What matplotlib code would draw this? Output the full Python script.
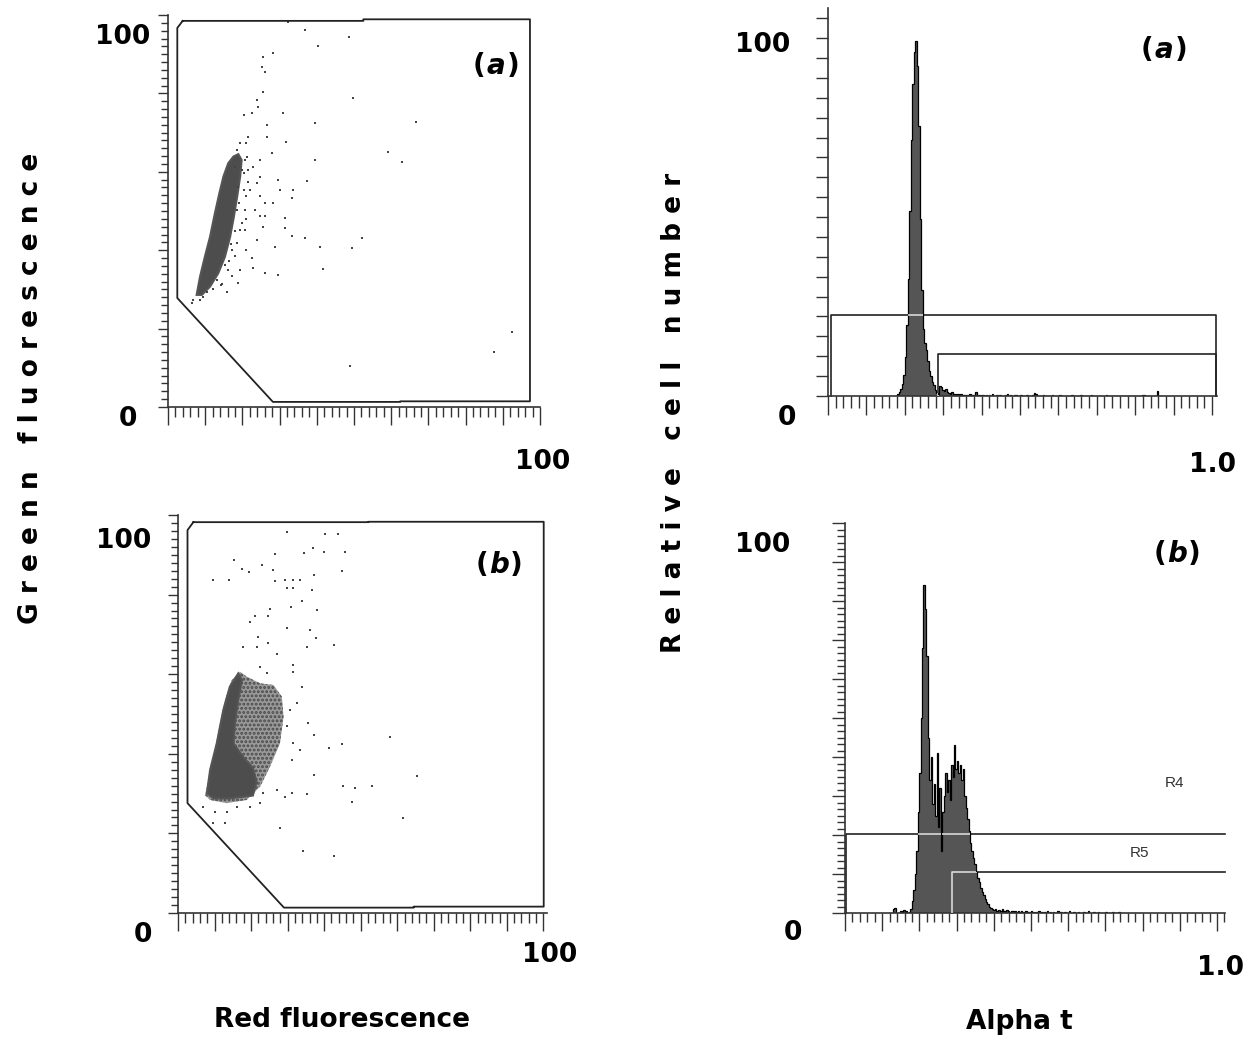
import matplotlib
matplotlib.use('Agg')
import matplotlib.pyplot as plt
from matplotlib.ticker import MultipleLocator
import numpy as np

# ---------------- data ----------------
# Scatter (a): gate polygon, dense cloud outline, sparse events
gate_a_x = [3.95, 2.5, 2.5, 28.2, 62.4, 62.4, 97.3, 97.3, 52.5, 52.5, 3.95]
gate_a_y = [98.5, 96.7, 27.8, 1.3, 1.3, 1.45, 1.45, 98.9, 98.9, 98.5, 98.5]
cloud_a_x = [7.7, 8.6, 9.9, 11.3, 12.6, 13.8, 14.9, 16.2, 17.6, 18.9, 19.8, 19.4,
             18.6, 17.7, 16.7, 15.3, 13.5, 11.3, 9.1]
cloud_a_y = [28.6, 33.2, 38.3, 43.4, 49.4, 54.5, 58.8, 62.2, 63.9, 64.5, 63.0, 58.8,
             53.7, 48.5, 43.4, 38.3, 34.1, 30.7, 28.6]
pts_a_x = [36.8, 40.4, 48.7, 49.6, 25.6, 28.3, 26.1, 25.2, 25.6, 23.8, 24.3, 20.3,
           22.5, 26.5, 31.0, 26.5, 21.6, 21.1, 31.7, 39.5, 59.2, 62.8, 66.7, 39.5,
           37.3, 33.7, 33.2, 29.7, 30.1, 26.1, 28.3, 24.7, 26.1, 25.6, 31.5, 31.5,
           33.2, 36.8, 40.9, 49.4, 52.1, 41.8, 29.7, 26.1, 28.8, 22.5, 22.9, 19.4,
           18.9, 15.8, 6.4, 8.6, 48.9, 87.5, 92.4, 21.1, 22.0, 23.8, 20.7, 23.4,
           19.8, 20.7, 23.8, 18.5, 18.0, 21.1, 24.7, 27.9, 24.7, 22.9, 24.7, 21.6,
           32.3, 16.2, 14.4, 17.1, 20.3, 19.8, 20.7, 18.5, 19.4, 18.0, 21.6, 18.5,
           19.4, 17.1, 15.3, 13.1, 10.4, 6.8, 9.5, 20.4, 19.1, 17.9, 16.4, 14.2,
           12.0, 20.9, 18.8, 21.3, 16.9]
pts_a_y = [96.2, 92.1, 94.3, 78.7, 89.4, 90.2, 85.5, 86.8, 80.4, 78.3, 76.6, 74.5,
           74.9, 72.0, 75.1, 69.0, 69.0, 67.3, 67.7, 72.5, 65.1, 62.6, 72.8, 63.0,
           57.7, 55.4, 53.2, 57.9, 55.4, 52.1, 52.1, 48.6, 48.6, 46.0, 48.1, 45.6,
           43.5, 43.0, 40.9, 40.5, 43.0, 35.1, 33.7, 34.1, 40.9, 37.9, 35.4, 35.0,
           31.6, 29.4, 26.5, 27.3, 10.5, 14.1, 19.2, 53.7, 55.4, 57.1, 50.3, 50.3,
           46.9, 45.2, 42.6, 41.8, 38.4, 40.1, 53.7, 64.7, 63.0, 61.3, 58.8, 60.5,
           98.3, 34.9, 31.5, 33.3, 55.4, 60.5, 63.0, 65.6, 67.3, 61.3, 57.5, 50.3,
           45.2, 40.1, 36.2, 32.4, 29.4, 27.3, 28.1, 59.6, 52.0, 44.8, 37.2, 31.0,
           30.0, 48.0, 56.2, 63.8, 41.5]

# Scatter (b)
gate_b_x = [4.2, 2.6, 2.6, 29.0, 64.5, 64.5, 100.1, 100.1, 52.1, 52.1, 4.2]
gate_b_y = [98.2, 96.2, 27.6, 1.35, 1.35, 1.6, 1.6, 98.3, 98.3, 98.2, 98.2]
haze_b_x = [7.4, 8.8, 10.1, 11.5, 12.9, 14.7, 17.0, 18.8, 22.5, 26.1, 28.4, 28.9,
            27.9, 25.2, 22.5, 18.8, 13.3, 8.8]
haze_b_y = [29.6, 35.1, 41.0, 47.7, 53.5, 58.5, 60.6, 59.4, 57.7, 57.3, 54.4, 49.3,
            42.6, 36.8, 31.8, 28.4, 27.6, 28.4]
core_b_x = [7.9, 8.8, 10.6, 12.4, 14.2, 16.5, 17.5, 16.5, 15.6, 15.2, 18.0, 20.5,
            21.5, 20.5, 14.2, 9.7]
core_b_y = [30.1, 36.0, 42.6, 51.0, 56.9, 60.2, 58.5, 53.5, 47.7, 42.6, 39.0, 36.5,
            33.0, 29.5, 28.8, 28.8]
pts_b_x = [29.8, 40.1, 43.9, 26.6, 34.5, 36.9, 40.0, 45.6, 15.4, 17.4, 19.5, 22.9,
           26.1, 9.7, 14.0, 26.6, 29.3, 31.4, 33.4, 37.1, 36.6, 45.0, 29.8, 31.6,
           33.9, 31.0, 38.0, 25.2, 21.1, 19.7, 24.7, 29.8, 36.2, 37.8, 22.0, 17.7,
           21.6, 24.7, 27.0, 35.3, 42.6, 31.6, 31.4, 22.5, 24.3, 33.9, 32.5, 35.7,
           37.1, 41.2, 44.8, 58.1, 37.1, 45.1, 48.5, 53.1, 47.6, 65.4, 61.7, 27.9,
           34.3, 42.6, 29.3, 35.3, 31.1, 27.0, 23.4, 9.7, 12.9, 6.9, 10.1, 13.3,
           31.1, 33.4, 29.8, 30.7, 31.6, 22.5, 19.7, 16.1]
pts_b_y = [95.8, 95.2, 95.2, 90.2, 90.5, 91.6, 90.8, 90.8, 88.7, 86.4, 85.8, 87.4,
           86.2, 83.7, 83.7, 83.3, 83.7, 83.7, 83.7, 85.0, 81.2, 86.0, 81.6, 81.6,
           78.5, 77.0, 76.1, 76.4, 74.6, 73.2, 74.5, 71.5, 71.1, 69.0, 69.4, 66.8,
           66.9, 67.8, 65.2, 66.8, 67.3, 62.3, 60.6, 61.9, 60.2, 56.9, 52.7, 47.7,
           44.7, 41.4, 42.5, 44.3, 34.7, 31.8, 31.3, 31.9, 28.0, 34.3, 23.8, 21.3,
           15.7, 14.2, 29.2, 29.9, 30.2, 30.9, 30.1, 22.5, 22.5, 26.7, 25.5, 25.5,
           38.5, 41.0, 46.9, 51.0, 42.6, 27.6, 26.7, 26.7]

# Histogram (a): 256-channel counts (relative), starting at channel 45
hist_a_start = 45
hist_a = [0, 0.5, 1.2, 2, 3.5, 6, 11, 20, 33, 52, 72, 88,
          97, 100, 93, 76, 50, 30, 19, 15, 13, 10, 7, 5.5,
          4, 3, 1.8, 0.8, 0.4, 2.8, 2.4, 1.8, 1.4, 2.0, 1.0, 0.9,
          0.7, 1.2, 0.5, 0.6, 0.4, 0.5, 0.3, 0.6, 0.2, 0.4, 0.3, 0.2,
          0.3, 0.5, 0.3, 0.2, 0.4, 1.0, 0.1, 0.3, 0, 0.2, 0.3, 0,
          0.2, 0, 0.4, 0, 0.5, 0, 0, 0.2, 0, 0.3, 0, 0,
          0, 0.4, 0.5, 0, 0.2, 0, 0, 0.3, 0.4, 0, 0, 0.2,
          0, 0, 0, 0.3, 0, 0, 0, 0.2, 0.8, 0.6, 0, 0,
          0, 0, 0.2, 0, 0, 0, 0, 0, 0.3, 0, 0, 0,
          0, 0.2, 0, 0, 0, 0, 0, 0, 0, 0.2, 0, 0,
          0, 0, 0, 0.2, 0, 0, 0, 0, 0, 0, 0.2, 0,
          0, 0, 0, 0, 0, 0, 0, 0, 0.2, 0, 0, 0,
          0, 0, 0, 0, 0, 0, 0, 0, 0, 0, 0, 0,
          0, 0, 0, 0, 0, 0, 0, 0, 0.4, 0.3, 0, 0,
          0, 0, 0, 0, 0, 0, 1.4, 0, 0, 0]
gate_a_R4 = [0.007, 1.01, 22.8]   # x0, x1, top
gate_a_R5 = [0.286, 1.01, 11.8]

# Histogram (b): starting at channel 30
hist_b_start = 30
hist_b = [0, 0, 0, 1.0, 1.4, 0, 0, 0, 0.6, 0, 0.8, 0, 0.5, 0,
          0.3, 1, 3, 6, 10, 16, 26, 36, 50, 68, 84, 78,
          66, 45, 34, 40, 28, 33, 25, 41, 22, 32, 16, 26,
          30, 36, 31, 34, 29, 38, 35, 43, 37, 39, 36, 38,
          34, 37, 30, 27, 24, 21, 18, 16, 14, 12.5, 10.5, 9,
          8, 6.5, 5.5, 4.5, 3.5, 2.8, 2.2, 1.6, 1.2, 1.0, 0.8, 0.9,
          0.6, 0.7,
          0.8, 0.5, 0.9, 0.6, 0.4, 0.7, 0.5, 0.3, 0.6, 0.4, 0.2, 0.5,
          0.3, 0.6, 0.2, 0.4, 0.3, 0, 0.5, 0.2, 0.3, 0, 0.4, 0.2,
          0, 0.3, 0, 0.5, 0, 0.2, 0, 0.3, 0, 0.6, 0, 0.2,
          0, 0.3, 0, 0, 0.4, 0, 0.2, 0, 0, 0.3, 0, 0,
          0.5, 0, 0, 0.2, 0, 0, 0.3, 0, 0, 0, 0.2, 0,
          0, 0.4, 0, 0, 0, 0.2, 0, 0, 0.3, 0, 0, 0,
          0, 0.2, 0, 0, 0, 0, 0.3, 0, 0, 0, 0.2, 0]
gate_b_R4 = [0.003, 1.0215, 20.3]
gate_b_R5 = [0.288, 1.0215, 10.5]
gate_b_labels = ['R4', 'R5']
gate_b_label_x = [0.887, 0.793]
gate_b_label_y = [33.3, 15.4]

# ---------------- figure ----------------
W, H = 1257, 1041
plt.rcParams['hatch.linewidth'] = 1.4
fig = plt.figure(figsize=(W / 100, H / 100), dpi=100)
BOLD = dict(family='DejaVu Sans', weight='bold', color='black')
AXC = '#333333'


def add_ax(l, t, r, b):
    return fig.add_axes([l / W, 1 - b / H, (r - l) / W, (b - t) / H])


def ftext(x, y, s, **kw):
    return fig.text(x / W, 1 - y / H, s, **kw)


def style_axes(ax, xmaj, xmin, ymaj, ymin, xl, xs, yl, ys):
    for sp in ('top', 'right'):
        ax.spines[sp].set_visible(False)
    for sp in ('left', 'bottom'):
        ax.spines[sp].set_color(AXC)
        ax.spines[sp].set_linewidth(1.2)
    ax.xaxis.set_major_locator(MultipleLocator(xmaj))
    ax.xaxis.set_minor_locator(MultipleLocator(xmin))
    ax.yaxis.set_major_locator(MultipleLocator(ymaj))
    ax.yaxis.set_minor_locator(MultipleLocator(ymin))
    ax.tick_params(axis='x', which='major', direction='out', length=xl, width=1.0,
                   color=AXC, labelbottom=False)
    ax.tick_params(axis='x', which='minor', direction='out', length=xs, width=1.0,
                   color=AXC)
    ax.tick_params(axis='y', which='major', direction='out', length=yl, width=1.0,
                   color=AXC, labelleft=False)
    ax.tick_params(axis='y', which='minor', direction='out', length=ys, width=1.0,
                   color=AXC)
    ax.set_facecolor('none')


def panel_label(x, y, letter):
    ftext(x - 11, y, '(', ha='right', va='center', fontsize=20, **BOLD)
    ftext(x, y, letter, ha='center', va='center', fontsize=20, style='italic', **BOLD)
    ftext(x + 11, y, ')', ha='left', va='center', fontsize=20, **BOLD)


# ---- scatter (a)
axA = add_ax(168, 15, 540, 407)
axA.set_xlim(0, 100)
axA.set_ylim(0, 100)
style_axes(axA, 10, 2, 20, 2, 13, 7, 7, 5)
axA.plot(gate_a_x, gate_a_y, color='#222222', lw=1.3, zorder=3)
axA.fill(cloud_a_x, cloud_a_y, color='#4d4d4d', lw=1.5, ec='#555555', zorder=2)
axA.scatter(pts_a_x, pts_a_y, s=3, marker='s', color='#444444', linewidths=0, zorder=2)

# ---- scatter (b)
axB = add_ax(178, 515, 547, 913)
axB.set_xlim(0, 101)
axB.set_ylim(0, 100)
style_axes(axB, 10, 2, 20, 2, 13, 7, 7, 5)
axB.plot(gate_b_x, gate_b_y, color='#222222', lw=1.3, zorder=3)
axB.fill(haze_b_x, haze_b_y, facecolor='#999999', edgecolor='#4a4a4a', hatch='....',
         lw=0, zorder=1.5)
axB.fill(core_b_x, core_b_y, color='#4d4d4d', lw=1.5, ec='#555555', zorder=2)
axB.scatter(pts_b_x, pts_b_y, s=3, marker='s', color='#444444', linewidths=0, zorder=2)


def draw_hist(ax, start, vals, gates, close_right):
    edges = (start + np.arange(len(vals) + 1)) / 256.0
    patch = ax.stairs(vals, edges, fill=True, color='#555555', zorder=2)
    ax.stairs(vals, edges, color='black', lw=0.9, zorder=2.5)
    for g in gates:
        x0, x1, top = g
        if close_right:
            gx, gy = [x0, x0, x1, x1], [0, top, top, 0]
        else:
            gx, gy = [x0, x0, x1], [0, top, top]
        ax.plot(gx, gy, color='#222222', lw=1.2, zorder=1.8, clip_on=False)
        light, = ax.plot(gx, gy, color='#d8d8d8', lw=1.2, zorder=3)
        light.set_clip_path(patch)


# ---- histogram (a)
axC = add_ax(828, 8, 1217, 396)
axC.set_xlim(0, 1.013)
axC.set_ylim(0, 109.3)
style_axes(axC, 0.1, 0.02, 5.6, 5.6, 14, 8.5, 8.5, 8.5)
draw_hist(axC, hist_a_start, hist_a, [gate_a_R4, gate_a_R5], True)

# ---- histogram (b)
axD = add_ax(845, 523, 1225, 913)
axD.set_xlim(0, 1.0215)
axD.set_ylim(0, 100)
style_axes(axD, 0.1, 0.02, 10, 10 / 6, 13, 6.5, 9.4, 5.8)
draw_hist(axD, hist_b_start, hist_b, [gate_b_R4, gate_b_R5], False)
for lab, lx, ly in zip(gate_b_labels, gate_b_label_x, gate_b_label_y):
    axD.text(lx, ly, lab, ha='center', va='center', fontsize=11,
             family='Liberation Sans', color='#333333')

# ---- scale annotations
for (x, y, s, ha) in [(150, 37, '100', 'right'), (128, 419, '0', 'center'),
                      (543, 462, '100', 'center'),
                      (151, 541, '100', 'right'), (143, 935, '0', 'center'),
                      (550, 955, '100', 'center'),
                      (790, 45, '100', 'right'), (787, 418, '0', 'center'),
                      (1213, 465, '1.0', 'center'),
                      (790, 545, '100', 'right'), (793, 933, '0', 'center'),
                      (1220, 968, '1.0', 'center')]:
    ftext(x, y, s, ha=ha, va='center', fontsize=19, **BOLD)

panel_label(496, 66, 'a')
panel_label(1164, 50, 'a')
panel_label(499, 565, 'b')
panel_label(1177, 554, 'b')

# ---- axis titles
ftext(31, 388, 'G r e e n n   f l u o r e s c e n c e', rotation=90,
      ha='center', va='center', fontsize=19, **BOLD)
ftext(674, 413, 'R e l a t i v e   c e l l   n u m b e r', rotation=90,
      ha='center', va='center', fontsize=19, **BOLD)
ftext(342, 1020, 'Red fluorescence', ha='center', va='center', fontsize=19, **BOLD)
ftext(1019, 1022, 'Alpha t', ha='center', va='center', fontsize=19, **BOLD)

fig.savefig('out.png', dpi=100, facecolor='white')
